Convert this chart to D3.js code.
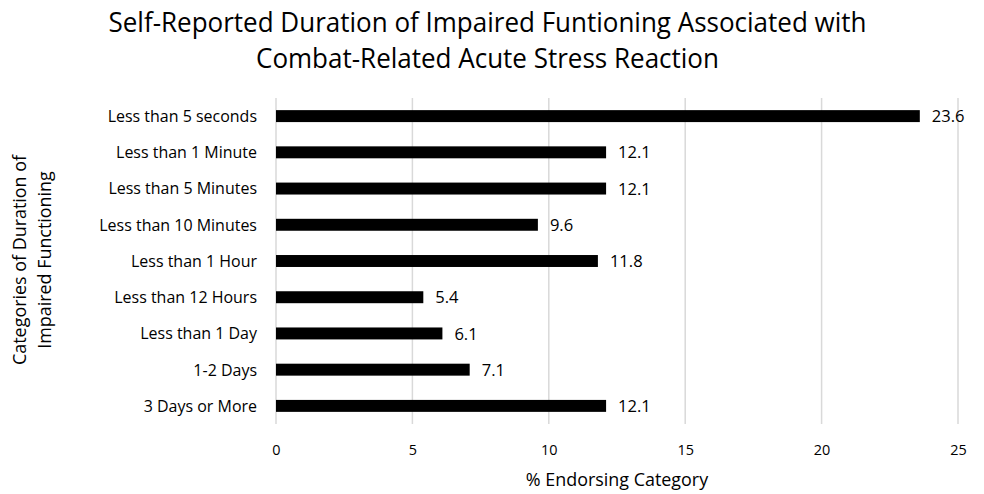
<!DOCTYPE html>
<html><head><meta charset="utf-8">
<script src="https://cdn.jsdelivr.net/npm/d3@7"></script>
<style>body{margin:0;background:#fff}svg{display:block}text{font-family:"Open Sans",sans-serif;fill:#000}</style>
</head><body><svg id="c" width="984" height="494"></svg>
<script>
const categories = ["Less than 5 seconds","Less than 1 Minute","Less than 5 Minutes","Less than 10 Minutes","Less than 1 Hour","Less than 12 Hours","Less than 1 Day","1-2 Days","3 Days or More"];
const values = [23.6,12.1,12.1,9.6,11.8,5.4,6.1,7.1,12.1];
const xTicks = [0,5,10,15,20,25];
const titleLines = ["Self-Reported Duration of Impaired Funtioning Associated with","Combat-Related Acute Stress Reaction"];
const yTitleLines = ["Categories of Duration of","Impaired Functioning"];
const xTitle = "% Endorsing Category";

const CAP = 0.714; // Open Sans cap height ratio
const svg = d3.select("#c");
const L = 276, R = 958, T = 98, B = 424;
const x = d3.scaleLinear().domain([0,25]).range([L,R]);
const y = d3.scaleBand().domain(categories).range([T,B]).paddingInner(0.67).paddingOuter(0.335);

const FS_TITLE = 27, FS_CAT = 16.6, FS_TICK = 15, FS_VAL = 17.2, FS_AX = 18.6;

// title
const tt = svg.append("g").selectAll("text").data(titleLines).join("text")
  .attr("x",487.5).attr("y",(d,i)=>32+i*36).attr("text-anchor","middle")
  .attr("font-size",FS_TITLE).text(d=>d);
const nat = tt.nodes()[0].getComputedTextLength();
const K = 758/nat;
function squeeze(sel, k){
  sel.each(function(){
    const w = this.getComputedTextLength();
    this.setAttribute("textLength", (w*(k||K)).toFixed(2));
    this.setAttribute("lengthAdjust","spacingAndGlyphs");
  });
}
squeeze(tt);

// grid
svg.append("g").selectAll("line").data(xTicks).join("line")
  .attr("x1",d=>x(d)).attr("x2",d=>x(d)).attr("y1",T).attr("y2",B)
  .attr("stroke","#d9d9d9").attr("stroke-width",1.5);

// x axis labels
const xa = svg.append("g").attr("transform",`translate(0,${B})`)
  .call(d3.axisBottom(x).tickValues(xTicks).tickSize(0).tickPadding(0).tickFormat(d3.format("d")));
xa.select(".domain").remove();
const xl = xa.selectAll("text").attr("y",450-B+FS_TICK*CAP/2).attr("dy",null).attr("font-size",FS_TICK)
  .style("font-family","'Open Sans',sans-serif").attr("fill","#000");
squeeze(xl);

// y axis labels
const ya = svg.append("g").attr("transform",`translate(${L},0)`)
  .call(d3.axisLeft(y).tickSize(0).tickPadding(19));
ya.select(".domain").remove();
const yl = ya.selectAll("text").attr("font-size",FS_CAT).attr("dy",null)
  .attr("y",FS_CAT*CAP/2)
  .style("font-family","'Open Sans',sans-serif").attr("fill","#000");
squeeze(yl);

// bars
svg.append("g").selectAll("rect").data(values).join("rect")
  .attr("x",x(0)).attr("y",(d,i)=>y(categories[i]))
  .attr("width",d=>x(d)-x(0)).attr("height",y.bandwidth()).attr("fill","#000");

// value labels
const vl = svg.append("g").selectAll("text").data(values).join("text")
  .attr("x",d=>x(d)+12).attr("y",(d,i)=>y(categories[i])+y.bandwidth()/2+FS_VAL*CAP/2)
  .attr("font-size",FS_VAL).text(d=>d3.format(".1f")(d));
squeeze(vl);

// x title
const xt = svg.append("text").attr("x",(L+R)/2).attr("y",486).attr("text-anchor","middle")
  .attr("font-size",FS_AX).text(xTitle);
squeeze(xt);

// y title
const yt = svg.append("g").attr("transform","translate(0,260) rotate(-90)").selectAll("text").data(yTitleLines).join("text")
  .attr("x",0).attr("y",(d,i)=>26+i*25).attr("text-anchor","middle")
  .attr("font-size",FS_AX).text(d=>d);
squeeze(yt);
</script></body></html>
